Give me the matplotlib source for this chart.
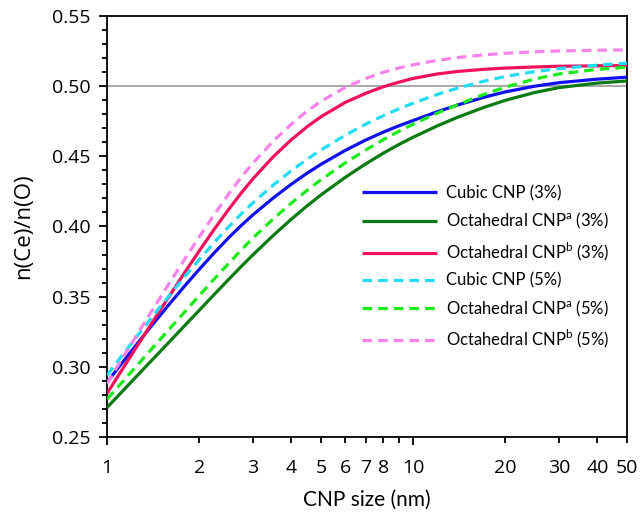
import matplotlib
matplotlib.use("Agg")
import matplotlib.pyplot as plt
from matplotlib.ticker import FixedLocator, FixedFormatter, MultipleLocator

# CNP size (nm)
size_nm = [1, 1.1, 1.25, 1.4, 1.6, 1.8, 2, 2.25, 2.5, 2.75, 3, 3.5, 4, 4.5, 5,
           6, 7, 8, 9, 10, 12, 14, 17, 20, 25, 30, 40, 50]

# n(Ce)/n(O) for each particle model and vacancy fraction
cubic_3 = [0.2890, 0.3006, 0.3160, 0.3294, 0.3448, 0.3580, 0.3694, 0.3817, 0.3921,
           0.4009, 0.4084, 0.4205, 0.4301, 0.4379, 0.4443, 0.4542, 0.4616, 0.4673,
           0.4718, 0.4755, 0.4818, 0.4866, 0.4920, 0.4959, 0.5000, 0.5025, 0.5050,
           0.5064]
octa_a_3 = [0.2710, 0.2805, 0.2933, 0.3046, 0.3179, 0.3297, 0.3402, 0.3520, 0.3624,
            0.3717, 0.3799, 0.3938, 0.4052, 0.4146, 0.4225, 0.4350, 0.4446, 0.4523,
            0.4585, 0.4636, 0.4717, 0.4779, 0.4848, 0.4899, 0.4955, 0.4990, 0.5022,
            0.5037]
octa_b_3 = [0.2810, 0.2953, 0.3143, 0.3311, 0.3506, 0.3677, 0.3825, 0.3986, 0.4123,
            0.4241, 0.4341, 0.4499, 0.4618, 0.4710, 0.4782, 0.4884, 0.4949, 0.4996,
            0.5029, 0.5055, 0.5087, 0.5105, 0.5120, 0.5129, 0.5137, 0.5142, 0.5145,
            0.5147]
cubic_5 = [0.2940, 0.3058, 0.3215, 0.3352, 0.3510, 0.3646, 0.3764, 0.3891, 0.3999,
           0.4091, 0.4170, 0.4297, 0.4397, 0.4478, 0.4545, 0.4650, 0.4729, 0.4790,
           0.4839, 0.4879, 0.4941, 0.4986, 0.5035, 0.5069, 0.5104, 0.5125, 0.5150,
           0.5164]
octa_a_5 = [0.2770, 0.2871, 0.3007, 0.3128, 0.3270, 0.3395, 0.3507, 0.3630, 0.3738,
            0.3834, 0.3919, 0.4056, 0.4166, 0.4257, 0.4333, 0.4453, 0.4545, 0.4619,
            0.4679, 0.4729, 0.4808, 0.4868, 0.4940, 0.4993, 0.5051, 0.5087, 0.5120,
            0.5135]
octa_b_5 = [0.2880, 0.3029, 0.3226, 0.3398, 0.3598, 0.3772, 0.3925, 0.4091, 0.4233,
            0.4353, 0.4453, 0.4610, 0.4729, 0.4821, 0.4892, 0.4991, 0.5055, 0.5099,
            0.5130, 0.5152, 0.5184, 0.5204, 0.5223, 0.5234, 0.5245, 0.5251, 0.5256,
            0.5258]

labels = ["Cubic CNP (3%)",
          r"Octahedral CNP$^{\mathrm{a}}$ (3%)",
          r"Octahedral CNP$^{\mathrm{b}}$ (3%)",
          "Cubic CNP (5%)",
          r"Octahedral CNP$^{\mathrm{a}}$ (5%)",
          r"Octahedral CNP$^{\mathrm{b}}$ (5%)"]

x_major = [1, 10]
x_major_text = ["1", "10"]
x_minor = [2, 3, 4, 5, 6, 7, 8, 9, 20, 30, 40]
x_minor_text = ["2", "3", "4", "5", "6", "7", "8", "", "20", "30", "40"]
x_end = 50

plt.rcParams["font.family"] = ["Open Sans", "DejaVu Sans"]
plt.rcParams["mathtext.fontset"] = "custom"
plt.rcParams["mathtext.rm"] = "Lato"

fig = plt.figure(figsize=(6.42, 5.18), dpi=100)
ax = fig.add_axes([0.1667, 0.1564, 0.8099, 0.8127])

ax.axhline(0.5, color="#9a9a9a", lw=1.2, zorder=1)

dash = (0, (3.0, 1.9))
series = [
    (cubic_3, "#1010f0", "-"),
    (octa_a_3, "#0b7a12", "-"),
    (octa_b_3, "#f5105e", "-"),
    (cubic_5, "#22dcf5", dash),
    (octa_a_5, "#1aea1a", dash),
    (octa_b_5, "#f682ea", dash),
]
for (vals, col, ls), lab in zip(series, labels):
    ax.plot(size_nm, vals, color=col, ls=ls, lw=2.3, label=lab, zorder=3,
            solid_capstyle="butt", dash_capstyle="butt")

ax.set_xscale("log")
ax.set_xlim(1, x_end)
ax.set_ylim(0.25, 0.55)

ax.xaxis.set_major_locator(FixedLocator(x_major))
ax.xaxis.set_major_formatter(FixedFormatter(x_major_text))
ax.xaxis.set_minor_locator(FixedLocator(x_minor + [x_end]))
ax.xaxis.set_minor_formatter(FixedFormatter(x_minor_text + [str(x_end)]))
ax.yaxis.set_major_locator(MultipleLocator(0.05))
ax.yaxis.set_minor_locator(MultipleLocator(0.01))
ax.yaxis.set_major_formatter(plt.FuncFormatter(lambda v, p: f"{v:.2f}"))

ax.tick_params(axis="both", which="both", direction="out", top=False, right=False,
               labelsize=14, width=1.3)
ax.tick_params(axis="y", which="major", length=6, pad=6)
ax.tick_params(axis="y", which="minor", length=3.5)
ax.tick_params(axis="x", which="major", length=6, pad=10)
ax.tick_params(axis="x", which="minor", length=4.5, pad=11.5)
for s in ax.spines.values():
    s.set_linewidth(1.3)

ax.set_xlabel("CNP size (nm)", fontsize=15, family=["Lato", "DejaVu Sans"], labelpad=9)
ax.set_ylabel("n(Ce)/n(O)", fontsize=16, labelpad=13)

leg = ax.legend(loc="lower right", bbox_to_anchor=(0.995, 0.17), frameon=False,
                prop={"family": ["Lato", "DejaVu Sans"], "size": 12},
                handlelength=4.5, handletextpad=0.5, labelspacing=0.58)

fig.savefig("out.png", dpi=100)
